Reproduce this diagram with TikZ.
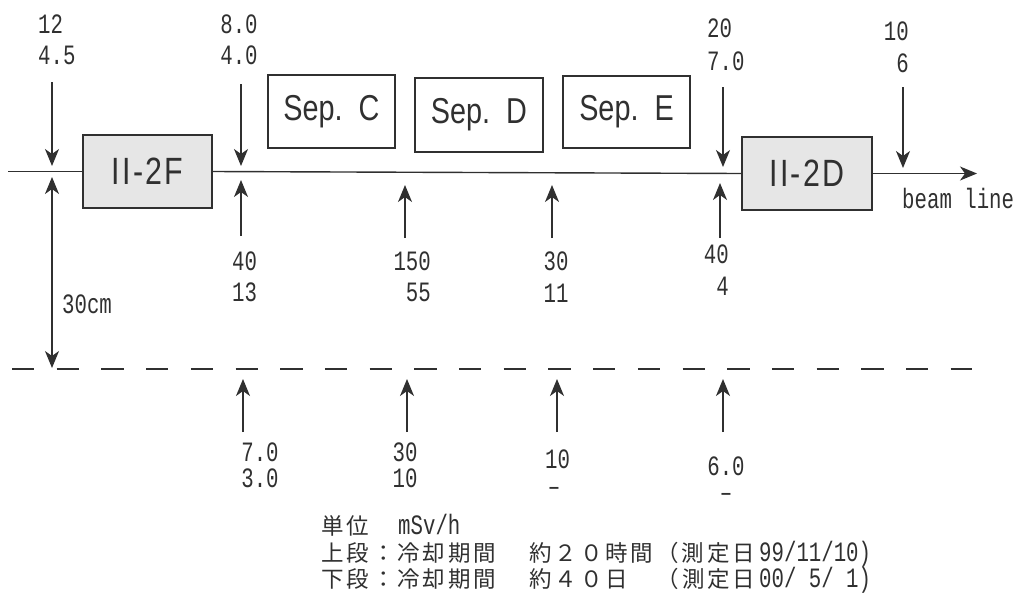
\documentclass[tikz,border=0pt]{standalone}
\usepackage{fontspec}
\setmainfont{Liberation Sans}
\newfontfamily\numfont{Liberation Mono}[FakeStretch=0.74]
\newfontfamily\boxfont{Liberation Sans}[FakeStretch=0.8]
\newfontfamily\boxfontw{Liberation Sans}[FakeStretch=0.8,LetterSpace=6]
\newfontfamily\cjk{Noto Sans CJK JP}[LetterSpace=13]
\usetikzlibrary{arrows.meta}
\definecolor{ink}{HTML}{303030}
\definecolor{shade}{HTML}{E6E6E6}
\begin{document}
\begin{tikzpicture}[x=1pt,y=-1pt,
  every node/.style={text=ink},
  box/.style={draw=ink, line width=1.3pt, minimum width=#1, minimum height=73pt, inner sep=0pt},
  magnet/.style={box=#1, fill=shade, font=\boxfontw\fontsize{38}{40}\selectfont},
  sepbox/.style={box=#1, font=\boxfont\fontsize{36}{40}\selectfont},
  num/.style={font=\numfont\fontsize{28}{30}\selectfont, inner sep=0pt},
  jp/.style={font=\cjk\fontsize{22.5}{26}\selectfont, inner sep=0pt, anchor=base west},
  dt/.style={font=\numfont\fontsize{28}{30}\selectfont, inner sep=0pt, anchor=base west},
  wire/.style={draw=ink, line width=1.4pt},
  tip/.tip={Stealth[length=17pt,width=14pt,inset=5pt]},
  arr/.style={draw=ink, line width=1.4pt, -tip},
  dimarr/.style={draw=ink, line width=1.4pt, tip-tip},
  dashline/.style={draw=ink, line width=1.4pt, dash pattern=on 22.3pt off 22.4pt}]
\useasboundingbox (0,0) rectangle (1019,603);

% boxes
\node[magnet=129pt] (f) at (147.5,171.5) {II-2F};
\node[sepbox=127pt] (sc) at (331.5,111.5) {Sep.\ \ C};
\node[sepbox=128pt, minimum height=74pt] (sd) at (479,115) {Sep.\ \ D};
\node[sepbox=127pt, minimum height=72pt] (se) at (626.5,112) {Sep.\ \ E};
\node[magnet=130pt] (d) at (807,173.5) {II-2D};

% beam line
\coordinate (b0) at (8,171.5);
\coordinate (b1) at (977,173.5);
\draw[wire] (b0) -- (f.west);
\draw[wire] (f.east) -- (d.west);
\draw[arr] (d.east) -- (b1);
\node[num, anchor=west] (bl) at (902,198.5) {beam line};

% dashed line 30 cm below
\coordinate (q0) at (12,369);
\coordinate (q1) at (972,369);
\draw[dashline] (q0) -- (q1);
\coordinate (m0) at (52,177);
\coordinate (m1) at (52,368);
\draw[dimarr] (m0) -- (m1);
\node[num, anchor=west] (cm) at (62,304) {30cm};

% arrows from above
\coordinate (a1s) at (52,82);  \coordinate (a1e) at (52,166);
\coordinate (a2s) at (241,84); \coordinate (a2e) at (241,166);
\coordinate (a3s) at (723,87); \coordinate (a3e) at (723,167);
\coordinate (a4s) at (903,87); \coordinate (a4e) at (903,168);
\draw[arr] (a1s) -- (a1e);
\draw[arr] (a2s) -- (a2e);
\draw[arr] (a3s) -- (a3e);
\draw[arr] (a4s) -- (a4e);
\node[num, anchor=west] (l1a) at (38,24) {12};
\node[num, anchor=west] (l1b) at (38,55) {4.5};
\node[num] (l2a) at (239,24) {8.0};
\node[num] (l2b) at (239,55) {4.0};
\node[num, anchor=west] (l3a) at (707,28.5) {20};
\node[num, anchor=west] (l3b) at (707,61) {7.0};
\node[num, anchor=east] (l4a) at (909,31.5) {10};
\node[num, anchor=east] (l4b) at (909,63.5) {6};

% arrows from below the beam line
\coordinate (u1s) at (241,236); \coordinate (u1e) at (241,180);
\coordinate (u2s) at (405,238); \coordinate (u2e) at (405,185);
\coordinate (u3s) at (552,238); \coordinate (u3e) at (552,185);
\coordinate (u4s) at (720,238); \coordinate (u4e) at (720,183);
\draw[arr] (u1s) -- (u1e);
\draw[arr] (u2s) -- (u2e);
\draw[arr] (u3s) -- (u3e);
\draw[arr] (u4s) -- (u4e);
\node[num] (m1a) at (244.5,261) {40};
\node[num] (m1b) at (244.5,292.5) {13};
\node[num, anchor=east] (m2a) at (431,261) {150};
\node[num, anchor=east] (m2b) at (431,292.5) {55};
\node[num] (m3a) at (556,261) {30};
\node[num] (m3b) at (556,293) {11};
\node[num, anchor=east] (m4a) at (729,254) {40};
\node[num, anchor=east] (m4b) at (729,286) {4};

% arrows from below the dashed line
\coordinate (w1s) at (243,432); \coordinate (w1e) at (243,379);
\coordinate (w2s) at (407,432); \coordinate (w2e) at (407,379);
\coordinate (w3s) at (557,432); \coordinate (w3e) at (557,379);
\coordinate (w4s) at (723,432); \coordinate (w4e) at (723,379);
\draw[arr] (w1s) -- (w1e);
\draw[arr] (w2s) -- (w2e);
\draw[arr] (w3s) -- (w3e);
\draw[arr] (w4s) -- (w4e);
\node[num] (n1a) at (260,452.5) {7.0};
\node[num] (n1b) at (260,478.5) {3.0};
\node[num] (n2a) at (405,452.5) {30};
\node[num] (n2b) at (405,478.5) {10};
\node[num] (n3a) at (557.5,459) {10};
\node[num] (n3b) at (554,491) {–};
\node[num] (n4a) at (726,466) {6.0};
\node[num] (n4b) at (726,497) {–};

% legend
\node[jp] (u1) at (321,534.5) {単位};
\node[dt] (u2) at (398,534.5) {mSv/h};
\node[jp] (r1a) at (321,561) {上段：冷却期間};
\node[jp] (r1b) at (529,561) {約２０時間（測定日};
\node[dt] (r1d) at (759,561) {99/11/10)};
\node[jp] (r2a) at (321,587.5) {下段：冷却期間};
\node[jp] (r2b) at (529,587.5) {約４０日};
\node[jp] (r2c) at (656.5,587.5) {（測定日};
\node[dt] (r2d) at (759,587.5) {00/ 5/ 1)};
\end{tikzpicture}
\end{document}
